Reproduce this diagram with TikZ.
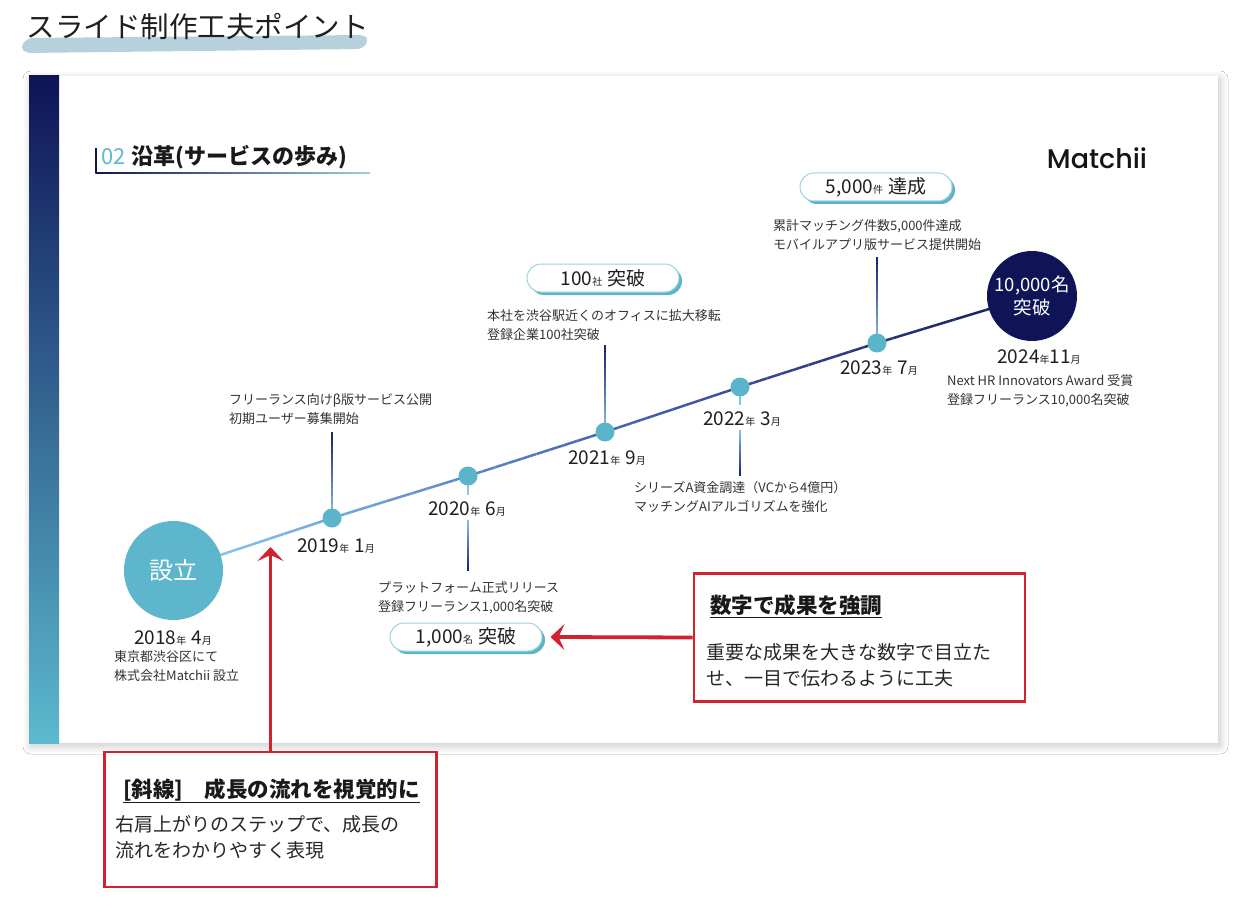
\documentclass[tikz,border=0pt]{standalone}
\usepackage{fontspec}
\setmainfont{Noto Sans CJK JP}
\newfontfamily\logofont{Poppins}[UprightFont={* Medium}]
\usetikzlibrary{calc,arrows.meta,shadows,shadows.blur}
\pgfdeclarelayer{bg}
\pgfdeclarelayer{lines}
\pgfsetlayers{bg,lines,main}
\definecolor{navy}{HTML}{0E1456}
\definecolor{barteal}{HTML}{5BB9CF}
\definecolor{dotteal}{HTML}{5AB4CA}
\definecolor{c18}{HTML}{5DB6CB}
\definecolor{lineL}{HTML}{90CDF2}
\definecolor{lineM}{HTML}{4A66B2}
\definecolor{lineR}{HTML}{141B5C}
\definecolor{stem}{HTML}{16206A}
\definecolor{stemlight}{HTML}{8EC3E8}
\definecolor{badgeedge}{HTML}{9ED2DF}
\definecolor{badgesh}{HTML}{5DB3C8}
\definecolor{redc}{HTML}{D2222D}
\definecolor{brushc}{HTML}{B6D1DC}
\definecolor{txt}{HTML}{333333}
\definecolor{hdrteal}{HTML}{5FB8CE}
\definecolor{hdrlight}{HTML}{9AD0E0}
\newcommand\ymd[2]{{\fontsize{19}{19}\selectfont #1}{\fontsize{10}{10}\selectfont 年}{\fontsize{19}{19}\selectfont #2}{\fontsize{10}{10}\selectfont 月}}
\newcommand\ymds[2]{{\fontsize{19}{19}\selectfont #1}{\fontsize{10}{10}\selectfont 年}\hspace{5pt}{\fontsize{19}{19}\selectfont #2}{\fontsize{10}{10}\selectfont 月}}
\newcommand\bdg[3]{{\fontsize{19}{19}\selectfont #1}{\fontsize{10}{10}\selectfont #2}\hspace{5pt}{\fontsize{19}{19}\selectfont #3}}
% gradient line: from #1 (colour #3) to #2 (colour #4), width #5
\newcommand\gradline[5]{%
  \foreach \k in {0,...,11} {
    \pgfmathsetmacro\pa{\k/12}
    \pgfmathsetmacro\pb{(\k+1)/12}
    \pgfmathtruncatemacro\mix{100-100*(\k+0.5)/12}
    \draw[line width=#5, draw=#3!\mix!#4] ($(#1)!\pa!(#2)$) -- ($(#1)!\pb!(#2)$);
  }}
\begin{document}
\begin{tikzpicture}[x=1pt,y=-1pt,
  dot/.style={circle, fill=dotteal, minimum size=19pt, inner sep=0pt},
  bigc/.style={circle, inner sep=0pt, text=white},
  datel/.style={inner sep=0pt, text=black!88},
  desc/.style={anchor=north west, align=left, inner sep=0pt, text=txt, font=\fontsize{13}{18.5}\selectfont},
  badge/.style={rounded corners=14pt, draw=badgeedge, line width=1pt, fill=white, minimum width=152pt, minimum height=28pt, inner sep=0pt, text=black!88, drop shadow={shadow xshift=3pt, shadow yshift=-3pt, fill=badgesh, opacity=1}},
  callout/.style={draw=redc, line width=2.8pt, fill=white, inner sep=0pt},
  redarrow/.style={draw=redc, line width=3.8pt, -{Stealth[length=14pt,width=26pt,inset=6pt]}},
  ctitle/.style={anchor=west, inner sep=0pt, text=black!90, font=\bfseries\fontsize{21.5}{24}\selectfont},
  cbody/.style={anchor=north west, align=left, inner sep=0pt, text=black!85, font=\fontsize{19}{26}\selectfont}
]
\useasboundingbox (0,0) rectangle (1250,912);

\begin{pgfonlayer}{bg}
  \fill[white] (0,0) rectangle (1250,912);
  % brush stroke under the title
  \fill[brushc, rounded corners=5pt] (20,47) -- (28,38) -- (364,35) -- (369,40) -- (362,49) -- (26,53) -- cycle;
  % slide
  \fill[white, blur shadow={shadow blur steps=14, shadow xshift=2pt, shadow yshift=-3pt, shadow blur radius=8pt, shadow opacity=22}] (29,76) rectangle (1218,743);
  \shade[top color=navy, bottom color=barteal] (29,76) rectangle (59,743);
  % header bar and underline
  \fill[navy] (95.3,148) rectangle (96.8,173.5);
  \shade[left color=navy, right color=hdrlight] (95.3,172.2) rectangle (370,173.6);
\end{pgfonlayer}

% title
\node[font=\fontsize{28.5}{30}\selectfont, text=black!88, inner sep=0pt] (ttl) at (198,27) {スライド制作工夫ポイント};

% header and logo
\node[anchor=west, inner sep=0pt, font=\fontsize{22}{22}\selectfont, text=black!90] (hdr) at (101,157) {\textcolor{hdrteal}{02}\hspace{6pt}\textbf{沿革(サービスの歩み)}};
\node[font=\logofont\fontsize{27}{27}\selectfont, inner sep=0pt, text=black!92] (logo) at (1097,158) {Matchii};

% milestones
\node[bigc, fill=c18, minimum size=99pt, font=\fontsize{24}{24}\selectfont] (f18) at (173.5,570.5) {設立};
\node[bigc, fill=navy, minimum size=90pt, align=center, font=\fontsize{18.5}{23}\selectfont] (f24) at (1032,296) {10,000名\\突破};
\node[dot] (d19) at (332,518) {};
\node[dot] (d20) at (468,476) {};
\node[dot] (d21) at (605,432) {};
\node[dot] (d22) at (740,387) {};
\node[dot] (d23) at (877,343) {};

% timeline with colour gradient
\begin{pgfonlayer}{lines}
\foreach \a/\b/\ta/\tb/\ca/\cb in {f18/d19/0/36/lineL/lineM, d19/d20/36/68/lineL/lineM, d20/d21/68/100/lineL/lineM, d21/d22/0/32/lineM/lineR, d22/d23/32/64/lineM/lineR, d23/f24/64/100/lineM/lineR} {
  \foreach \k in {0,...,9} {
    \pgfmathsetmacro\pa{\k/10}
    \pgfmathsetmacro\pb{(\k+1)/10}
    \pgfmathtruncatemacro\mix{100-(\ta+(\tb-\ta)*(\k+0.5)/10)}
    \draw[line width=2.5pt, draw=\ca!\mix!\cb] ($(\a)!\pa!(\b)$) -- ($(\a)!\pb!(\b)$);
  }
}
\end{pgfonlayer}

% dates
\node[datel] (t18) at (173,638) {\ymds{2018}{4}};
\node[datel] (t19) at (336,546) {\ymds{2019}{1}};
\node[datel] (t20) at (467,509) {\ymds{2020}{6}};
\node[datel] (t21) at (607,458) {\ymds{2021}{9}};
\node[datel] (t22) at (742,419) {\ymds{2022}{3}};
\node[datel] (t23) at (879,368) {\ymds{2023}{7}};
\node[datel] (t24) at (1039,357) {\ymd{2024}{11}};

% descriptions
\node[desc] (x18) at (114,650.5) {東京都渋谷区にて\\株式会社Matchii 設立};
\node[desc] (x19) at (229,393.5) {フリーランス向けβ版サービス公開\\初期ユーザー募集開始};
\node[desc] (x20) at (378,581.5) {プラットフォーム正式リリース\\登録フリーランス1,000名突破};
\node[desc] (x21) at (487,309.5) {本社を渋谷駅近くのオフィスに拡大移転\\登録企業100社突破};
\node[desc] (x22) at (634,481.5) {シリーズA資金調達（VCから4億円）\\マッチングAIアルゴリズムを強化};
\node[desc] (x23) at (773,219.5) {累計マッチング件数5,000件達成\\モバイルアプリ版サービス提供開始};
\node[desc] (x24) at (947,374.5) {Next HR Innovators Award 受賞\\登録フリーランス10,000名突破};

% badges
\node[badge] (b20) at (466,637) {\bdg{1,000}{名}{突破}};
\node[badge] (b21) at (603,278) {\bdg{100}{社}{突破}};
\node[badge] (b23) at (876,187) {\bdg{5,000}{件}{達成}};

% stems
\coordinate (c19) at (332,432);
\coordinate (c20a) at (468,495);
\coordinate (c20b) at (468,520);
\coordinate (c20c) at (468,571);
\coordinate (c21) at (605,345);
\coordinate (c22a) at (740,405);
\coordinate (c22b) at (740,430);
\coordinate (c22c) at (740,476);
\coordinate (c23) at (877,257);
\begin{pgfonlayer}{lines}
\gradline{d19.center}{c19}{stemlight}{stem}{2pt}
\draw[line width=2pt, draw=stemlight] (d20.center) -- (c20a);
\gradline{c20b}{c20c}{stemlight}{stem}{2pt}
\gradline{d21.center}{c21}{stemlight}{stem}{2pt}
\draw[line width=2pt, draw=stemlight] (d22.center) -- (c22a);
\gradline{c22b}{c22c}{stemlight}{stem}{2pt}
\gradline{d23.center}{c23}{stemlight}{stem}{2pt}
\end{pgfonlayer}

% callout 1
\node[callout, minimum width=331pt, minimum height=128pt] (box1) at (859.5,637.5) {};
\node[ctitle] (ct1) at (710,606) {\underline{数字で成果を強調}};
\node[cbody] (cb1) at (706,643) {重要な成果を大きな数字で目立た\\せ、一目で伝わるように工夫};
\draw[redarrow] (box1.west) -- ($(b20.east)+(8,0)$);

% callout 2
\node[callout, minimum width=332pt, minimum height=135pt] (box2) at (270.5,819.5) {};
\node[ctitle] (ct2) at (123,791) {\underline{[斜線]　成長の流れを視覚的に}};
\node[cbody] (cb2) at (115,815.5) {右肩上がりのステップで、成長の\\流れをわかりやすく表現};
\coordinate (a2) at (270.5,547);
\draw[redarrow] (box2.north) -- (a2);
\end{tikzpicture}
\end{document}
